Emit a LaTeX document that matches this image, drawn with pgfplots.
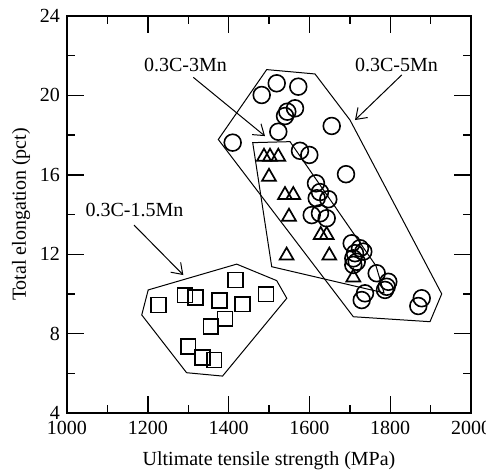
\documentclass[border=0pt]{standalone}
\usepackage{fontspec}
\setmainfont{Liberation Serif}
\usepackage{pgfplots}
\pgfplotsset{compat=1.18}
\usetikzlibrary{arrows.meta}
\begin{document}
\fontsize{10}{12}\selectfont
\begin{tikzpicture}
\begin{axis}[
  at={(0,0)}, anchor=south west,
  scale only axis, width=202pt, height=198.5pt,
  xmin=1000, xmax=2000, ymin=4, ymax=24,
  xtick={1000,1200,...,2000}, ytick={4,8,...,24},
  minor x tick num=1, minor y tick num=1,
  major tick length=8.5pt, minor tick length=4.2pt,
  tick style={line width=0.7pt, black},
  axis line style={line width=0.8pt},
  /pgf/number format/assume math mode=true,
  /pgf/number format/1000 sep={},
  xlabel={Ultimate tensile strength (MPa)},
  ylabel={Total elongation (pct)},
  xlabel style={yshift=-1.5pt},
  ylabel style={yshift=-2pt},
  xticklabel style={yshift=-0.5pt},
  clip=false,
]
% polygons
\addplot[black, line width=0.5pt, mark=none] coordinates {
 (1201,10.2) (1420,11.5) (1519,10.67) (1544,9.78) (1385,5.86) (1296,6.03) (1185,8.94)} --cycle;
\addplot[black, line width=0.5pt, mark=none] coordinates {
 (1494.3,21.30) (1613.9,21.08) (1700.5,18.76) (1927.5,10.0) (1898.5,8.60) (1708.7,8.85) (1374.5,17.78)} --cycle;
\addplot[black, line width=0.5pt, mark=none] coordinates {
 (1459.7,17.62) (1552,17.67) (1764.9,11.41) (1784.7,10.05) (1506.7,11.37)} --cycle;
% arrows
\addplot[black, line width=0.5pt, mark=none, -{Straight Barb[length=5pt,width=7pt]}] coordinates {(1312.6,20.91) (1490.1,17.95)};
\addplot[black, line width=0.5pt, mark=none, -{Straight Barb[length=5pt,width=7pt]}] coordinates {(1828.5,21.03) (1712.9,18.76)};
\addplot[black, line width=0.5pt, mark=none, -{Straight Barb[length=5pt,width=7pt]}] coordinates {(1165.8,13.47) (1287.9,10.95)};
% squares 0.3C-1.5Mn
\addplot[black, only marks, mark=square, mark size=3.7pt, mark options={line width=0.85pt}] coordinates {
 (1226,9.44) (1292,9.94) (1318.6,9.81) (1377,9.66) (1416.6,10.7) (1434,9.48)
 (1492.6,9.99) (1391,8.74) (1356,8.35) (1300,7.34) (1336,6.79) (1364,6.67)};
% triangles 0.3C-3Mn
\addplot[black, only marks, mark=triangle, mark size=4pt, mark options={line width=0.85pt}] coordinates {
 (1487.6,16.91) (1502.5,16.91) (1523.0,16.91) (1500,15.90) (1539.6,14.98) (1560.1,14.98)
 (1549.5,13.89) (1628,12.97) (1642.8,12.97) (1543.6,11.93) (1649.3,11.93) (1708.7,10.83)};
% circles 0.3C-5Mn
\addplot[black, only marks, mark=o, mark size=4.2pt, mark options={line width=0.8pt}] coordinates {
 (1410.1,17.62) (1481.9,20.02) (1519.1,20.61) (1572.5,20.44) (1564.4,19.35) (1545.3,19.18)
 (1539.6,18.96) (1655.2,18.46) (1523.0,18.17) (1576.7,17.21) (1599.8,17.0) (1690.6,16.03)
 (1616.3,15.57) (1618.1,14.82) (1646.8,14.77) (1626.2,15.13) (1605.7,13.97) (1626.2,14.06)
 (1642.8,13.81) (1704.7,12.55) (1725.2,12.30) (1733.4,12.13) (1712.9,12.05) (1708.7,11.79)
 (1717.1,11.62) (1708.7,11.46) (1766.6,11.04) (1795.3,10.61) (1791.3,10.36) (1787.1,10.20)
 (1737.6,10.03) (1729.5,9.69) (1878.0,9.78) (1869.6,9.39)};
% labels
\node at (axis cs:1293.3,21.53) {0.3C-3Mn};
\node at (axis cs:1815.6,21.53) {0.3C-5Mn};
\node at (axis cs:1167,14.23) {0.3C-1.5Mn};
\end{axis}
\pgfresetboundingbox
\useasboundingbox (-33.5pt,-29pt) rectangle (209.5pt,206.5pt);
\end{tikzpicture}
\end{document}
